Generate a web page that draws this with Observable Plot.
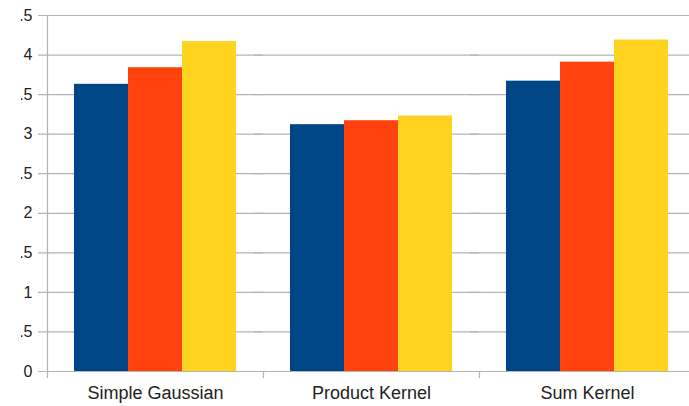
<!DOCTYPE html>
<html>
<head>
<meta charset="utf-8">
<script src="https://cdn.jsdelivr.net/npm/d3@7"></script>
<script src="https://cdn.jsdelivr.net/npm/@observablehq/plot@0.6"></script>
<style>
  html, body { margin: 0; padding: 0; background: #fff; }
  #page { width: 689px; height: 406px; position: relative; overflow: hidden; background: #fff; }
  #clip { position: absolute; left: 21px; top: 0; width: 668px; height: 406px; overflow: hidden; }
  #chart { position: absolute; left: -42px; top: 0; width: 716px; height: 406px; }
  #chart svg { max-width: none !important; width: 716px; height: 406px; }
  #chart svg text { fill: #222; }
  #chart [aria-label^="fx-axis"] text { font-size: 18px; }
</style>
</head>
<body>
<div id="page"><div id="clip"><div id="chart"></div></div></div>
<script>
const categories = ["Simple Gaussian", "Product Kernel", "Sum Kernel"];
const seriesNames = ["Series 1", "Series 2", "Series 3"];
const series1 = [3.63, 3.12, 3.67];
const series2 = [3.84, 3.17, 3.91];
const series3 = [4.17, 3.23, 4.19];
const yTicks = [0, 0.5, 1, 1.5, 2, 2.5, 3, 3.5, 4, 4.5];
const colors = ["#004586", "#ff420e", "#ffd320"];

const seriesValues = [series1, series2, series3];
const data = [];
categories.forEach((c, i) => {
  seriesNames.forEach((s, j) => data.push({cat: c, series: s, value: seriesValues[j][i]}));
});
const boundaries = categories.map((c, i) => ({cat: c, top: i === 0 ? yTicks[yTicks.length - 1] : 0}));

const grid = "#b3b3b3";
const chart = Plot.plot({
  width: 716,
  height: 406,
  marginLeft: 68,
  marginRight: 0,
  marginTop: 15,
  marginBottom: 35,
  style: {fontFamily: "'Liberation Sans', Arial, sans-serif", fontSize: "16px", background: "#fff", color: "#222"},
  fx: {domain: categories, padding: 0, label: null, tickSize: 0, tickPadding: 15},
  x: {domain: seriesNames, paddingInner: 0, paddingOuter: 0.5, axis: null},
  y: {domain: [0, 4.5], ticks: yTicks, tickFormat: d => String(d), tickSize: 0, tickPadding: 15, label: null},
  color: {domain: seriesNames, range: colors},
  marks: [
    Plot.ruleY(yTicks, {y: d => d, stroke: grid, strokeWidth: 1.2, insetLeft: -9}),
    Plot.barY(data, {fx: "cat", x: "series", y: "value", fill: "series"}),
    Plot.ruleX(boundaries, {fx: "cat", x: () => seriesNames[0], dx: -54, y1: -0.09, y2: "top", stroke: grid, strokeWidth: 1.2})
  ]
});
document.getElementById("chart").appendChild(chart);
</script>
</body>
</html>
